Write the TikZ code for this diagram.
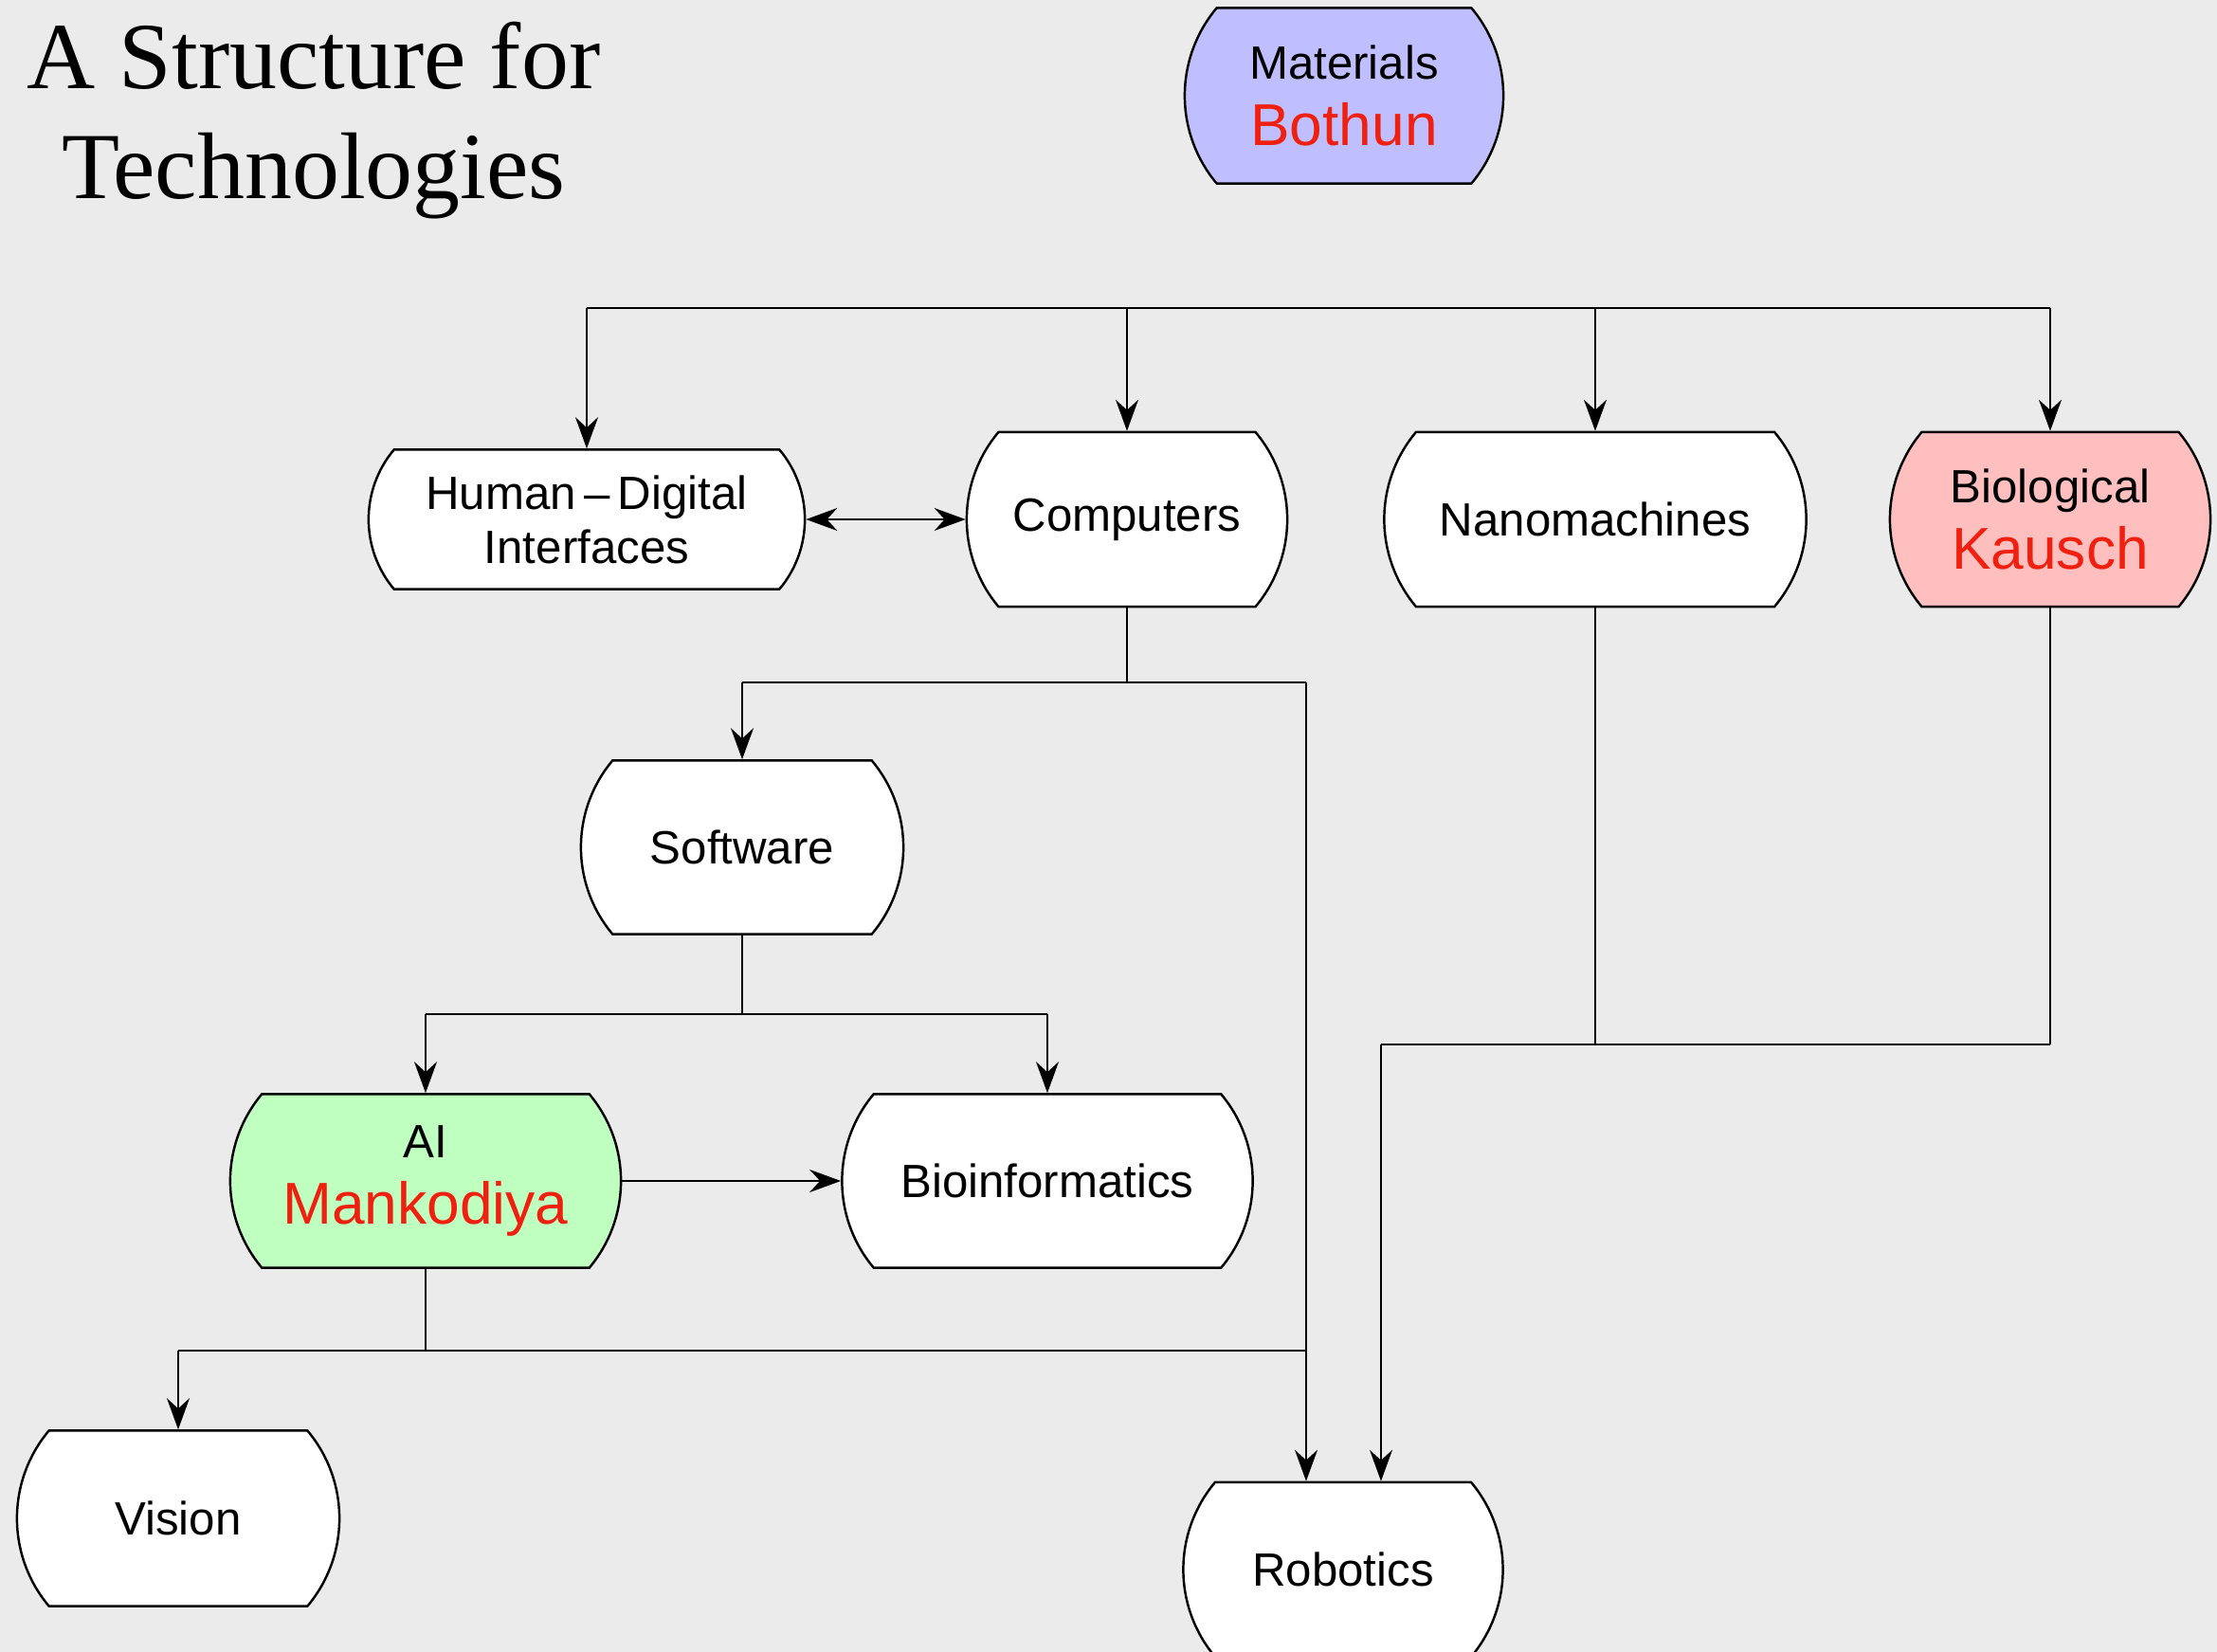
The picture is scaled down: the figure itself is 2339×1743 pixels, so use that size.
\documentclass[tikz,border=0pt]{standalone}
\usepackage{fontspec}
\setmainfont{Liberation Sans}
\newfontfamily\titlefont{Liberation Serif}
\usetikzlibrary{shapes.misc,arrows.meta,calc}
\definecolor{bgcol}{RGB}{235,235,235}
\definecolor{lav}{RGB}{191,191,255}
\definecolor{pinkc}{RGB}{255,191,191}
\definecolor{greenc}{RGB}{191,255,191}
\definecolor{namered}{RGB}{240,32,16}
\newcommand{\pname}[1]{{\fontsize{17.7pt}{20pt}\selectfont\color{namered}#1}}
\tikzset{
  tnode/.style={rounded rectangle, rounded rectangle arc length=80, draw, line width=0.7pt,
    fill=white, minimum height=1.84cm, inner sep=0pt, align=center,
    font=\fontsize{14pt}{20pt}\selectfont},
  conn/.style={line width=0.75pt},
  tip/.tip={Stealth[length=0.33cm,width=0.24cm,inset=0.11cm]},
  arr/.style={conn, -tip},
  darr/.style={conn, tip-tip}
}
\begin{document}
\begin{tikzpicture}[x=0.01cm,y=-0.01cm]
\fill[bgcol] (0,0) rectangle (2339,1743);
\useasboundingbox (0,0) rectangle (2339,1743);

\node[font=\titlefont\fontsize{28.4pt}{33pt}\selectfont, align=center] (title) at (331,127) {A Structure for\\Technologies};

\node[tnode, fill=lav, minimum width=3.36cm, minimum height=1.85cm] (mat) at (1418,101) {Materials\\\pname{Bothun}};
\node[tnode, minimum width=4.6cm, minimum height=1.47cm, font=\fontsize{14pt}{16.2pt}\selectfont] (hd) at (619,548) {Human\,–\,Digital\\Interfaces};
\node[tnode, minimum width=3.38cm] (comp) at (1189,548) {Computers};
\node[tnode, minimum width=4.45cm] (nano) at (1683,548) {Nanomachines};
\node[tnode, fill=pinkc, minimum width=3.38cm] (bio) at (2163,548) {Biological\\\pname{Kausch}};
\node[tnode, minimum width=3.4cm, minimum height=1.83cm] (soft) at (783,894) {Software};
\node[tnode, fill=greenc, minimum width=4.12cm, minimum height=1.83cm] (ai) at (449,1246) {AI\\\pname{Mankodiya}};
\node[tnode, minimum width=4.33cm, minimum height=1.83cm] (binf) at (1105,1246) {Bioinformatics};
\node[tnode, minimum width=3.4cm, minimum height=1.85cm] (vis) at (188,1602) {Vision};
\node[tnode, minimum width=3.37cm] (rob) at (1417,1656) {Robotics};

% top bus
\coordinate (bus) at (0,325);
\draw[conn] (hd.north |- bus) -- (bio.north |- bus);
\draw[arr] (hd.north |- bus) -- (hd.north);
\draw[arr] (comp.north |- bus) -- (comp.north);
\draw[arr] (nano.north |- bus) -- (nano.north);
\draw[arr] (bio.north |- bus) -- (bio.north);

% HD <-> Computers
\draw[darr] (hd.east) -- (comp.west);

% Computers branch
\coordinate (cj) at (1378,720);
\draw[conn] (comp.south) -- (comp.south |- cj);
\draw[conn] (soft.north |- cj) -- (cj);
\draw[arr] (soft.north |- cj) -- (soft.north);
\draw[arr] (cj) -- (cj |- rob.north);

% Software branch
\coordinate (sj) at (0,1070);
\draw[conn] (soft.south) -- (soft.south |- sj);
\draw[conn] (ai.north |- sj) -- (binf.north |- sj);
\draw[arr] (ai.north |- sj) -- (ai.north);
\draw[arr] (binf.north |- sj) -- (binf.north);

% AI -> Bioinformatics
\draw[arr] (ai.east) -- (binf.west);

% AI branch
\coordinate (aj) at (0,1425);
\draw[conn] (ai.south) -- (ai.south |- aj);
\draw[conn] (vis.north |- aj) -- (cj |- aj);
\draw[arr] (vis.north |- aj) -- (vis.north);

% Nanomachines & Biological to Robotics
\coordinate (nj) at (1457,1102);
\draw[conn] (nano.south) -- (nano.south |- nj);
\draw[conn] (bio.south) -- (bio.south |- nj);
\draw[conn] (nj) -- (bio.south |- nj);
\draw[arr] (nj) -- (nj |- rob.north);
\end{tikzpicture}
\end{document}
